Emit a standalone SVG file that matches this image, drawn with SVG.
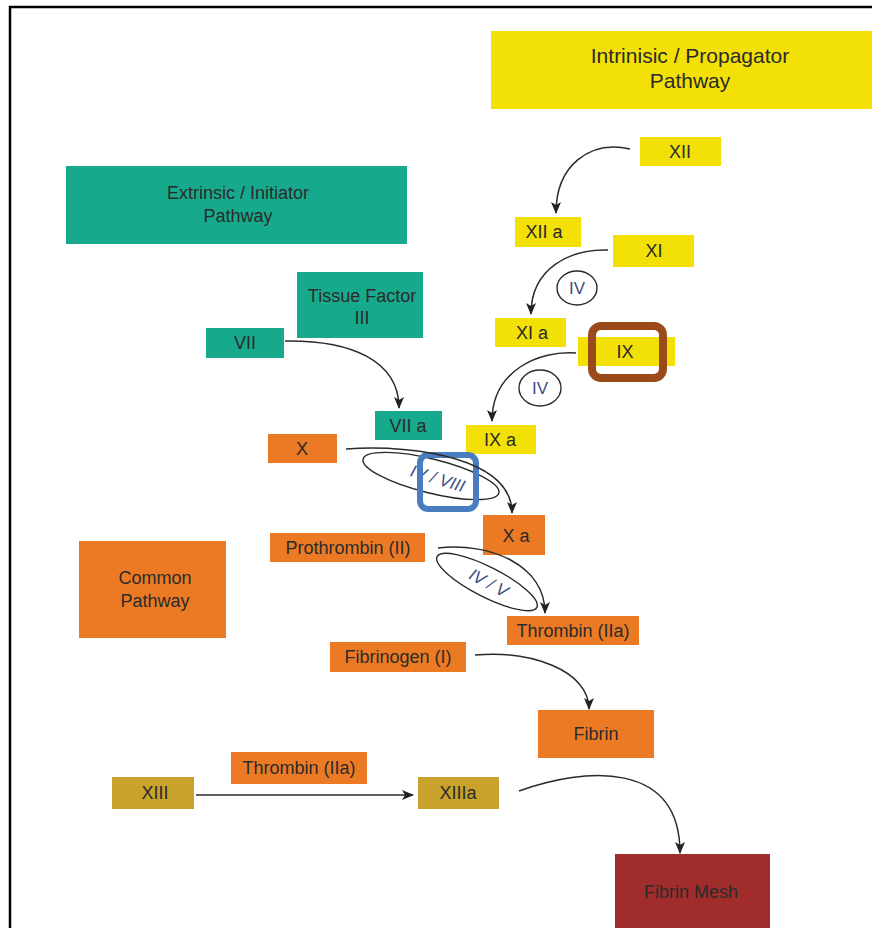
<svg xmlns="http://www.w3.org/2000/svg" width="872" height="928" viewBox="0 0 872 928">
<defs>
<style>
.t{font-family:"Liberation Sans",Arial,sans-serif;font-size:18px;fill:#2b2b2b;text-anchor:middle}
.big{font-size:21px}
.y{fill:#F2E006}
.g{fill:#17A98B}
.o{fill:#EC7A25}
.au{fill:#C8A22A}
.r{fill:#A02C2C}
.c{fill:none;stroke:#2a2a2a;stroke-width:1.5}
.e{fill:none;stroke:#2a2a2a;stroke-width:1.4}
.lab{font-family:"Liberation Sans",Arial,sans-serif;font-size:17px;fill:#3d4f80;text-anchor:middle;font-style:italic}
</style>
<marker id="ah" viewBox="0 0 12 10" refX="11" refY="5" markerWidth="12" markerHeight="10" markerUnits="userSpaceOnUse" orient="auto">
<path d="M0,0 L12,5 L0,10 L3,5 z" fill="#222"/>
</marker>
</defs>
<rect width="872" height="928" fill="#fff"/>
<path d="M10,928 V7 H872" fill="none" stroke="#000" stroke-width="2.5"/>

<g id="intrinsic"><rect class="y" x="491" y="31" width="381" height="78"/><text class="t big" x="690" y="63">Intrinisic / Propagator</text><text class="t big" x="690" y="88">Pathway</text></g>
<g id="extrinsic"><rect class="g" x="66" y="166" width="341" height="78"/><text class="t" x="238" y="199">Extrinsic / Initiator</text><text class="t" x="238" y="222">Pathway</text></g>
<g id="xii"><rect class="y" x="640" y="137" width="81" height="29"/><text class="t" x="680" y="158">XII</text></g>
<g id="xiia"><rect class="y" x="515" y="217" width="66" height="30"/><text class="t" x="544" y="238">XII a</text></g>
<g id="xi"><rect class="y" x="613" y="235" width="81" height="32"/><text class="t" x="654" y="257">XI</text></g>
<g id="iv1"><ellipse class="e" cx="577" cy="288" rx="20" ry="17"/><text class="lab" x="577" y="294" style="font-style:normal">IV</text></g>
<g id="xia"><rect class="y" x="495" y="318" width="71" height="29"/><text class="t" x="532" y="339">XI a</text></g>
<g id="ix"><rect class="y" x="578" y="337" width="97" height="29"/><text class="t" x="625" y="358">IX</text><rect x="592" y="326" width="71" height="52" rx="9" fill="none" stroke="#9B4A1A" stroke-width="8"/></g>
<g id="iv2"><ellipse class="e" cx="540" cy="388" rx="21" ry="18"/><text class="lab" x="540" y="394" style="font-style:normal">IV</text></g>
<g id="ixa"><rect class="y" x="466" y="425" width="70" height="29"/><text class="t" x="500" y="446">IX a</text></g>
<g id="tf"><rect class="g" x="297" y="272" width="126" height="66"/><text class="t" x="362" y="302">Tissue Factor</text><text class="t" x="362" y="324">III</text></g>
<g id="vii"><rect class="g" x="206" y="328" width="78" height="30"/><text class="t" x="245" y="349">VII</text></g>
<g id="viia"><rect class="g" x="375" y="411" width="67" height="29"/><text class="t" x="408" y="432">VII a</text></g>
<g id="x"><rect class="o" x="268" y="434" width="69" height="29"/><text class="t" x="302" y="455">X</text></g>
<g id="iv8"><ellipse class="e" cx="431" cy="476" rx="70" ry="17" transform="rotate(14 431 476)"/><text class="lab" transform="translate(436 484) rotate(17)">IV / VIII</text></g>
<g id="xa"><rect class="o" x="483" y="515" width="62" height="40"/><text class="t" x="516" y="542">X a</text></g>
<g id="pro"><rect class="o" x="270" y="533" width="155" height="29"/><text class="t" x="348" y="554">Prothrombin (II)</text></g>
<g id="iv5"><ellipse class="e" cx="487" cy="582" rx="56" ry="15" transform="rotate(27 487 582)"/><text class="lab" transform="translate(486 588) rotate(28)">IV / V</text></g>
<g id="thr"><rect class="o" x="507" y="616" width="132" height="29"/><text class="t" x="573" y="637">Thrombin (IIa)</text></g>
<g id="common"><rect class="o" x="79" y="541" width="147" height="97"/><text class="t" x="155" y="584">Common</text><text class="t" x="155" y="607">Pathway</text></g>
<g id="fibrinogen"><rect class="o" x="330" y="642" width="136" height="30"/><text class="t" x="398" y="663">Fibrinogen (I)</text></g>
<g id="fibrin"><rect class="o" x="538" y="710" width="116" height="48"/><text class="t" x="596" y="740">Fibrin</text></g>
<g id="thr2"><rect class="o" x="231" y="752" width="136" height="32"/><text class="t" x="299" y="774">Thrombin (IIa)</text></g>
<g id="xiii"><rect class="au" x="112" y="777" width="82" height="32"/><text class="t" x="155" y="799">XIII</text></g>
<g id="xiiia"><rect class="au" x="418" y="777" width="81" height="32"/><text class="t" x="458" y="799">XIIIa</text></g>
<g id="mesh"><rect class="r" x="615" y="854" width="155" height="74"/><text class="t" x="691" y="898">Fibrin Mesh</text></g>

<g id="blue"><rect x="420" y="455" width="56" height="54" rx="8" fill="none" stroke="#4A7CC0" stroke-width="6"/></g>

<g id="connectors">
<path class="c" marker-end="url(#ah)" d="M630,149 C590,140 556,165 556,213"/>
<path class="c" marker-end="url(#ah)" d="M608,250 C570,249 531,268 531,314"/>
<path class="c" marker-end="url(#ah)" d="M576,353 C540,350 492,370 492,421"/>
<path class="c" marker-end="url(#ah)" d="M285,341 C350,340 399,360 399,408"/>
<path class="c" marker-end="url(#ah)" d="M346,449 C420,444 512,460 512,513"/>
<path class="c" marker-end="url(#ah)" d="M438,548 C490,542 545,565 545,613"/>
<path class="c" marker-end="url(#ah)" d="M475,655 C530,650 589,670 589,709"/>
<path class="c" marker-end="url(#ah)" d="M196,795 H413"/>
<path class="c" marker-end="url(#ah)" d="M519,791 C585,767 680,760 680,853"/>
</g>
</svg>
